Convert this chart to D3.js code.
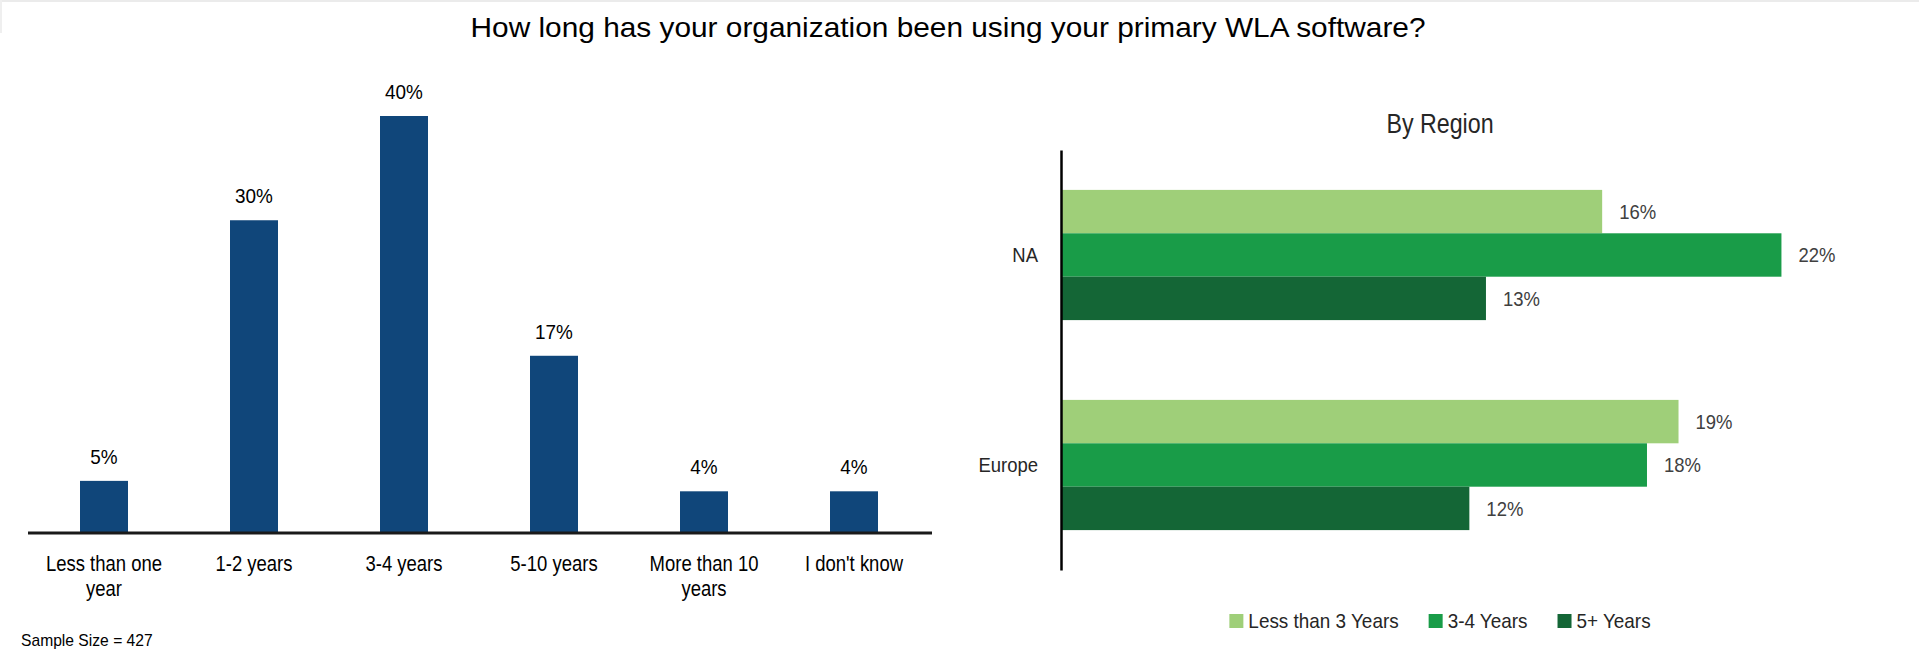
<!DOCTYPE html>
<html>
    <head>
        <title>WLA software usage</title>
        <meta charset="UTF-8">
        <style>
            body { margin: 0; background: #fff; }
            text { font-family: "Liberation Sans", Arial, sans-serif; }
        </style>
    </head>
    <body>
        <svg id="chart" width="1919" height="655"></svg>
        <script src="https://cdn.jsdelivr.net/npm/d3@7"></script>
        <script>
            // overall question
            var categories = ["Less than one year", "1-2 years", "3-4 years", "5-10 years", "More than 10 years", "I don't know"];
            var shares = [0.05, 0.30, 0.40, 0.17, 0.04, 0.04];

            // by region
            var regions = ["NA", "Europe"];
            var seriesNames = ["Less than 3 Years", "3-4 Years", "5+ Years"];
            var naValues = [0.163, 0.217, 0.128];
            var europeValues = [0.186, 0.1765, 0.123];
            var seriesColors = ["#9fcf79", "#199c48", "#146636"];

            var svg = d3.select("#chart");
            var pct = d3.format(".0%");
            var NARROW = 0.84;   // no Arial Narrow here, so squeeze Liberation Sans

            function squeeze(sel, k)
            {
                sel.each(function() {
                    var len = this.getComputedTextLength();
                    d3.select(this).attr("textLength", len * k).attr("lengthAdjust", "spacingAndGlyphs");
                });
                return sel;
            }

            // thin grey frame remnant at top
            svg.append("rect").attr("x", 0).attr("y", 0).attr("width", 1919).attr("height", 2).attr("fill", "#ebebeb");
            svg.append("rect").attr("x", 0).attr("y", 0).attr("width", 2).attr("height", 33).attr("fill", "#efefef");

            svg.append("text")
                .attr("x", 948).attr("y", 37)
                .attr("text-anchor", "middle")
                .attr("font-size", 28)
                .attr("fill", "#000")
                .attr("textLength", 955).attr("lengthAdjust", "spacingAndGlyphs")
                .text("How long has your organization been using your primary WLA software?");

            // ---- left: column chart ----
            var x = d3.scaleBand().domain(categories).range([29, 929]).paddingInner(0.68).paddingOuter(0.34);
            var y = d3.scaleLinear().domain([0, 0.4]).range([533, 116]);

            var left = svg.append("g");
            left.selectAll("rect.bar").data(shares).enter()
                .append("rect").attr("class", "bar")
                .attr("x", (d, i) => x(categories[i]))
                .attr("width", x.bandwidth())
                .attr("y", d => y(d))
                .attr("height", d => y(0) - y(d))
                .attr("fill", "#10467a");

            left.selectAll("text.val").data(shares).enter()
                .append("text").attr("class", "val")
                .attr("x", (d, i) => x(categories[i]) + x.bandwidth() / 2)
                .attr("y", d => y(d) - 17)
                .attr("text-anchor", "middle")
                .attr("font-size", 21)
                .attr("fill", "#000")
                .text(d => pct(d))
                .call(squeeze, 0.9);

            var xAxis = left.append("g")
                .attr("transform", "translate(0," + y(0) + ")")
                .call(d3.axisBottom(x).tickSize(0).tickPadding(38));
            xAxis.select(".domain").attr("stroke", "#1a1a1a").attr("stroke-width", 3).attr("d", "M28,0H932");
            xAxis.selectAll(".tick text")
                .attr("font-size", 22)
                .attr("fill", "#000")
                .attr("dy", 0)
                .each(function(d) { wrap(d3.select(this), d, 132 / NARROW); });
            squeeze(xAxis.selectAll(".tick tspan"), NARROW);

            function wrap(t, str, width)
            {
                var words = str.split(" "), line = [];
                t.text(null);
                var tspan = t.append("tspan").attr("x", 0).attr("dy", 0);
                words.forEach(function(w) {
                    line.push(w);
                    tspan.text(line.join(" "));
                    if (tspan.node().getComputedTextLength() > width && line.length > 1) {
                        line.pop();
                        tspan.text(line.join(" "));
                        line = [w];
                        tspan = t.append("tspan").attr("x", 0).attr("dy", 25).text(w);
                    }
                });
            }

            svg.append("text")
                .attr("x", 21).attr("y", 646)
                .attr("font-size", 17)
                .attr("fill", "#000")
                .text("Sample Size = 427")
                .call(squeeze, 0.92);

            // ---- right: grouped horizontal bars ----
            var regionValues = [naValues, europeValues];
            var yr = d3.scaleBand().domain(regions).range([150, 570]).paddingInner(0.38).paddingOuter(0.19);
            var ys = d3.scaleBand().domain(seriesNames).range([0, yr.bandwidth()]);
            var xr = d3.scaleLinear().domain([0, 0.25]).range([1061, 1891]);

            svg.append("text")
                .attr("x", 1440).attr("y", 133)
                .attr("text-anchor", "middle")
                .attr("font-size", 28)
                .attr("fill", "#262626")
                .text("By Region")
                .call(squeeze, 0.83);

            var groups = svg.selectAll("g.region").data(regions).enter()
                .append("g").attr("class", "region")
                .attr("transform", d => "translate(0," + yr(d) + ")");

            groups.selectAll("rect").data((d, i) => regionValues[i]).enter()
                .append("rect")
                .attr("x", xr(0))
                .attr("y", (d, i) => ys(seriesNames[i]))
                .attr("height", ys.bandwidth())
                .attr("width", d => xr(d) - xr(0))
                .attr("fill", (d, i) => seriesColors[i]);

            groups.selectAll("text").data((d, i) => regionValues[i]).enter()
                .append("text")
                .attr("x", d => xr(d) + 17)
                .attr("y", (d, i) => ys(seriesNames[i]) + ys.bandwidth() / 2)
                .attr("dy", "0.35em")
                .attr("font-size", 21)
                .attr("fill", "#404040")
                .text(d => pct(d))
                .call(squeeze, 0.88);

            var yAxis = svg.append("g")
                .attr("transform", "translate(" + xr(0) + ",0)")
                .call(d3.axisLeft(yr).tickSize(0).tickPadding(23));
            yAxis.select(".domain").attr("stroke", "#000").attr("stroke-width", 2.5);
            yAxis.selectAll(".tick text").attr("font-size", 21).attr("fill", "#262626").call(squeeze, 0.88);

            // legend
            var legend = svg.append("g");
            var lx = 0;
            seriesNames.forEach(function(name, i) {
                var item = legend.append("g").attr("transform", "translate(" + lx + ",0)");
                item.append("rect").attr("x", 0).attr("y", 614).attr("width", 14).attr("height", 14).attr("fill", seriesColors[i]);
                var t = item.append("text").attr("x", 19).attr("y", 628)
                    .attr("font-size", 21).attr("fill", "#262626").text(name);
                var w = t.node().getComputedTextLength() * 0.9;
                t.attr("textLength", w).attr("lengthAdjust", "spacingAndGlyphs");
                lx += 19 + w + 30;
            });
            var lw = lx - 30;
            legend.attr("transform", "translate(" + (1440 - lw / 2) + ",0)");
        </script>
    </body>
</html>
